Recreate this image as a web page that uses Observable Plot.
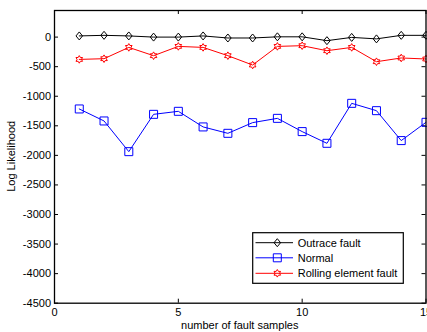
<!DOCTYPE html>
<html><head><meta charset="utf-8">
<script src="https://cdn.jsdelivr.net/npm/d3@7"></script>
<script src="https://cdn.jsdelivr.net/npm/@observablehq/plot@0.6"></script>
<style>
html,body{margin:0;padding:0;background:#fff;}
svg{display:block;overflow:hidden;}
</style>
</head><body>
<div id="chart"></div>
<script>
const samples = [1,2,3,4,5,6,7,8,9,10,11,12,13,14,15];
const outrace = [20,30,20,0,0,20,-15,-15,5,5,-60,-5,-30,30,30];
const normal = [-1215,-1418,-1937,-1306,-1255,-1519,-1627,-1446,-1374,-1598,-1796,-1120,-1244,-1750,-1441];
const rolling = [-377,-365,-174,-314,-157,-174,-314,-472,-157,-145,-230,-174,-416,-353,-370];
const seriesNames = ["Outrace fault","Normal","Rolling element fault"];
const seriesColors = ["#000000","#0000ff","#ff0000"];
const xTicks = [0,5,10,15];
const yTicks = [-4500,-4000,-3500,-3000,-2500,-2000,-1500,-1000,-500,0];
const xLabel = "number of fault samples";
const yLabel = "Log Likelihood";

const W = 427, H = 332, mL = 54, mR = 1.5, mT = 10, mB = 29.3;
const pW = W - mL - mR, pH = H - mT - mB;

const diamond = {draw(c, size){const r=Math.sqrt(size/Math.PI); c.moveTo(0,-r); c.lineTo(0.82*r,0); c.lineTo(0,r); c.lineTo(-0.82*r,0); c.closePath();}};
const square = {draw(c, size){const r=Math.sqrt(size/Math.PI); c.rect(-r,-r,2*r,2*r);}};
const hexagram = {draw(c, size){const r=Math.sqrt(size/Math.PI); const ri=r/Math.sqrt(3);
  for(let i=0;i<12;i++){const a=-Math.PI/2+i*Math.PI/6; const rr=i%2?ri:r; const x=rr*Math.cos(a), y=rr*Math.sin(a); if(i) c.lineTo(x,y); else c.moveTo(x,y);} c.closePath();}};
const symbols = [diamond, square, hexagram];
const symbolR = [4, 4, 3.8];

const seriesData = [outrace, normal, rolling].map(vals => samples.map((s,i)=>({x:s, y:vals[i]})));
const fmt = d => String(d);

const marks = [
  Plot.axisX({ticks: xTicks, tickSize: 0, tickPadding: 5, label: null, fontSize: 11, tickFormat: fmt}),
  Plot.axisY({ticks: yTicks, tickSize: 0, tickPadding: 3.5, label: null, fontSize: 11, tickFormat: fmt}),
  Plot.tickX(xTicks, {x: d=>d, insetTop: pH-4, stroke: "black"}),
  Plot.tickX(xTicks, {x: d=>d, insetBottom: pH-4, stroke: "black"}),
  Plot.tickY(yTicks, {y: d=>d, insetRight: pW-4, stroke: "black"}),
  Plot.tickY(yTicks, {y: d=>d, insetLeft: pW-4, stroke: "black"})
];
seriesData.forEach((data, k) => {
  marks.push(Plot.line(data, {x:"x", y:"y", stroke: seriesColors[k], strokeWidth: 1}));
  marks.push(Plot.dot(data, {x:"x", y:"y", stroke: seriesColors[k], fill: "none", symbol: symbols[k], r: symbolR[k], strokeWidth: 1}));
});
marks.push(Plot.frame({stroke: "black", strokeWidth: 1.3}));

const chart = Plot.plot({
  width: W, height: H,
  marginLeft: mL, marginRight: mR, marginTop: mT, marginBottom: mB,
  x: {domain: [0, 15]},
  y: {domain: [-4500, 450]},
  style: {fontFamily: "'Liberation Sans', Arial, sans-serif", fontSize: "11px", background: "white", color: "black"},
  marks
});
document.getElementById("chart").appendChild(chart);

const svg = d3.select(chart);
svg.append("text").attr("x", mL + pW/2).attr("y", 328.5).attr("text-anchor","middle")
  .attr("font-size", 11).attr("fill","black").text(xLabel);
svg.append("text").attr("transform", `translate(14.5,${mT + pH/2}) rotate(-90)`).attr("text-anchor","middle")
  .attr("font-size", 11).attr("fill","black").text(yLabel);

// legend
const lg = svg.append("g").attr("text-anchor","start");
lg.append("rect").attr("x", 252.7).attr("y", 232.7).attr("width", 150.6).attr("height", 50.6)
  .attr("fill","white").attr("stroke","black").attr("stroke-width",1.2);
const rowsY = [242.7, 257.8, 273.3];
seriesNames.forEach((name, k) => {
  const y = rowsY[k];
  lg.append("line").attr("x1",255.5).attr("x2",293).attr("y1",y).attr("y2",y).attr("stroke",seriesColors[k]).attr("stroke-width",1);
  const r = symbolR[k];
  const p = d3.path(); symbols[k].draw(p, r*r*Math.PI);
  lg.append("path").attr("d", p.toString()).attr("transform",`translate(277.3,${y})`).attr("fill","none").attr("stroke",seriesColors[k]).attr("stroke-width",1);
  lg.append("text").attr("x",297.7).attr("y",y).attr("dy","0.36em").attr("text-anchor","start").attr("font-size",11).attr("fill","black").text(name);
});
</script>
</body></html>
